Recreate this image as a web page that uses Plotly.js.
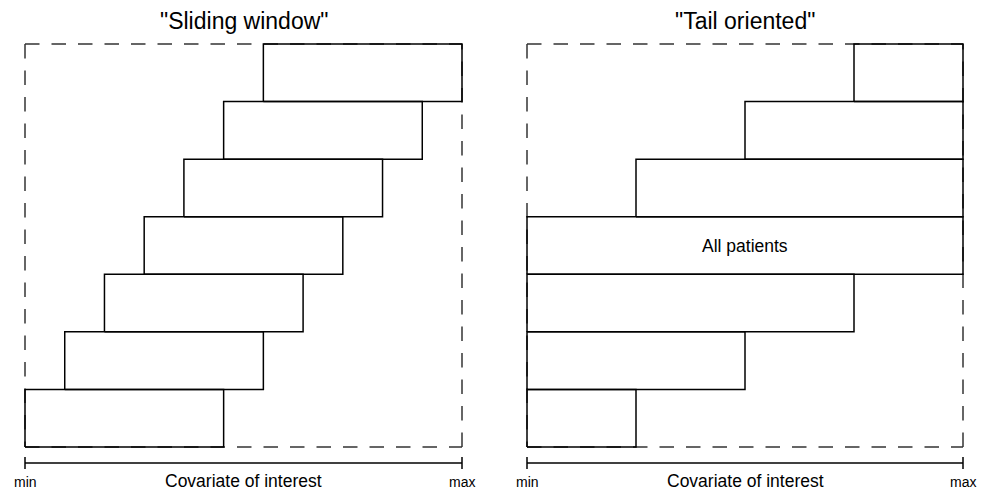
<!DOCTYPE html>
<html>
<head>
<meta charset="utf-8">
<script src="https://cdn.plot.ly/plotly-3.0.1.min.js"></script>
<style>html,body{margin:0;padding:0;background:#fff;}#chart{width:987px;height:491px;}</style>
</head>
<body>
<div id="chart"></div>
<script>
// ---- data (rows listed bottom to top) ----
const panelTitles = ['"Sliding window"', '"Tail oriented"'];
const slidingStart = [0, 1, 2, 3, 4, 5, 6];
const slidingEnd   = [5, 6, 7, 8, 9, 10, 11];
const slidingMax = 11;
const tailStart = [0, 0, 0, 0, 1, 2, 3];
const tailEnd   = [1, 2, 3, 4, 4, 4, 4];
const tailMax = 4;
const covMin = 0;
const tickLabels = ['min', 'max'];
const axisTitle = 'Covariate of interest';
const allPatientsRow = 3;
const allPatientsLabel = 'All patients';

const FONT = 'Arial, "Liberation Sans", sans-serif';

function boxes(starts, ends) {
  const x = [], y = [];
  starts.forEach((s, i) => {
    const e = ends[i];
    x.push(s, e, e, s, s, null);
    y.push(i, i, i + 1, i + 1, i, null);
  });
  return {x, y};
}
// dashed outline of the whole covariate range, drawn side by side
function frame(xmax, nrows) {
  return {
    x: [covMin, xmax, null, covMin, covMin, null, covMin, xmax, null, xmax, xmax],
    y: [nrows, nrows, null, nrows, 0, null, 0, 0, null, 0, nrows]
  };
}
const AXY = -0.278, TK = 0.104;
function axisLine(xmax) {
  return {
    x: [covMin, xmax, null, covMin, covMin, null, xmax, xmax],
    y: [AXY, AXY, null, AXY - TK, AXY + TK, null, AXY - TK, AXY + TK]
  };
}

const traces = [];
[[slidingStart, slidingEnd, slidingMax, 'x', 'y'], [tailStart, tailEnd, tailMax, 'x2', 'y2']].forEach(p => {
  const [st, en, mx, xa, ya] = p;
  const fr = frame(mx, st.length);
  traces.push({type: 'scatter', mode: 'lines', x: fr.x, y: fr.y, xaxis: xa, yaxis: ya,
    line: {color: '#333', width: 1.5, dash: '14.5px,12px'}, hoverinfo: 'skip', connectgaps: false});
  const b = boxes(st, en);
  traces.push({type: 'scatter', mode: 'lines', x: b.x, y: b.y, xaxis: xa, yaxis: ya,
    line: {color: '#000', width: 1.5}, hoverinfo: 'skip', connectgaps: false});
  const a = axisLine(mx);
  traces.push({type: 'scatter', mode: 'lines', x: a.x, y: a.y, xaxis: xa, yaxis: ya,
    line: {color: '#000', width: 1.5}, hoverinfo: 'skip', cliponaxis: false});
});

const ann = [];
[['x', 'y', slidingMax, 0], ['x2', 'y2', tailMax, 1]].forEach(p => {
  const [xa, ya, mx, k] = p;
  ann.push({text: panelTitles[k], xref: xa + ' domain', yref: 'paper', x: 0.5, y: 1 - 20.8 / 491,
    xanchor: 'center', yanchor: 'middle', showarrow: false, font: {family: FONT, size: 23, color: '#000'}});
  ann.push({text: tickLabels[0], xref: xa, yref: 'paper', x: covMin, y: 1 - 482 / 491,
    xanchor: 'center', yanchor: 'middle', showarrow: false, font: {family: FONT, size: 14, color: '#000'}});
  ann.push({text: tickLabels[1], xref: xa, yref: 'paper', x: mx, y: 1 - 482 / 491,
    xanchor: 'center', yanchor: 'middle', showarrow: false, font: {family: FONT, size: 14, color: '#000'}});
  ann.push({text: axisTitle, xref: xa, yref: 'paper', x: (covMin + mx) / 2, y: 1 - 481 / 491,
    xanchor: 'center', yanchor: 'middle', showarrow: false, font: {family: FONT, size: 17.5, color: '#000'}});
});
ann.push({text: allPatientsLabel, xref: 'x2', yref: 'y2', x: (covMin + tailMax) / 2, y: allPatientsRow + 0.5,
  xanchor: 'center', yanchor: 'middle', showarrow: false, font: {family: FONT, size: 17.5, color: '#000'}});

const hidden = {visible: false, fixedrange: true};
const layout = {
  width: 987, height: 491, autosize: false,
  margin: {l: 0, r: 0, t: 0, b: 0, pad: 0},
  paper_bgcolor: '#fff', plot_bgcolor: '#fff',
  showlegend: false, hovermode: false,
  xaxis:  Object.assign({}, hidden, {domain: [21.03 / 987, 465.97 / 987], range: [-0.1, 11.1], anchor: 'y'}),
  yaxis:  Object.assign({}, hidden, {domain: [0.03685, 0.92211], range: [-0.45, 7.1], anchor: 'x'}),
  xaxis2: Object.assign({}, hidden, {domain: [522.64 / 987, 967.36 / 987], range: [-0.04, 4.04], anchor: 'y2'}),
  yaxis2: Object.assign({}, hidden, {domain: [0.03685, 0.92211], range: [-0.45, 7.1], anchor: 'x2'}),
  annotations: ann
};
Plotly.newPlot('chart', traces, layout, {staticPlot: true, displayModeBar: false});
</script>
</body>
</html>
